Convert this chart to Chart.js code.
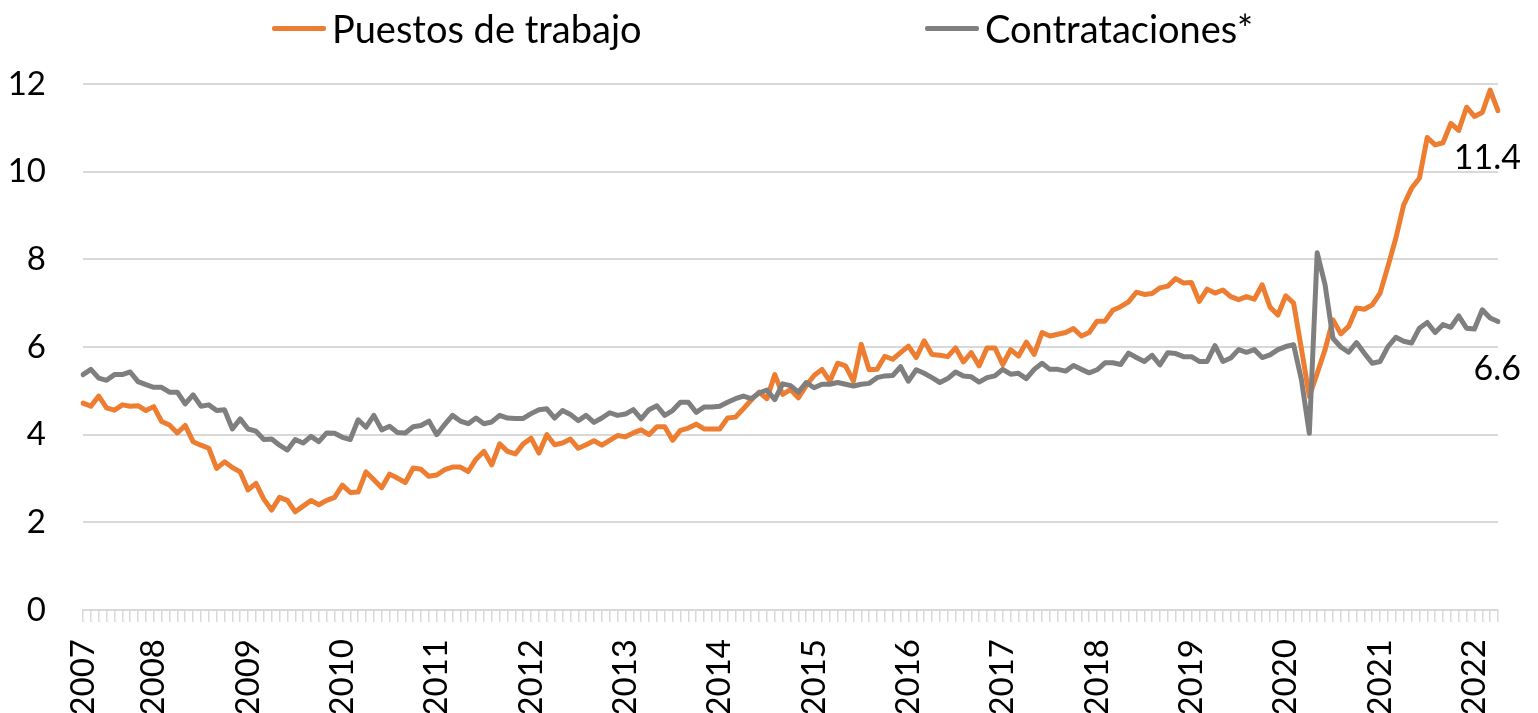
<!DOCTYPE html>
<html><head><meta charset="utf-8">
<script src="https://cdn.jsdelivr.net/npm/chart.js@4.4.0/dist/chart.umd.min.js"></script>
<style>
html,body{margin:0;padding:0;background:#fff;}
#wrap{position:relative;width:1538px;height:713px;overflow:hidden;}
#legend{position:absolute;top:0;left:0;width:1538px;height:60px;font-family:Lato,sans-serif;font-size:38px;color:#000;}
.item{position:absolute;top:6px;height:44px;display:flex;align-items:center;white-space:nowrap;}
.swatch{width:54px;height:5px;margin-right:6px;border-radius:2px;}
canvas{position:absolute;left:0;top:0;}
</style></head>
<body>
<div id="wrap">
<canvas id="c" width="1538" height="713"></canvas>
<div id="legend"></div>
</div>
<script>
// Monthly categories: Apr 2007 .. Apr 2022
const startYear = 2007, startMonth = 4, nMonths = 181;
const months = [];
for (let i = 0; i < nMonths; i++) {
  const m = (startMonth - 1 + i) % 12 + 1;
  const y = startYear + Math.floor((startMonth - 1 + i) / 12);
  months.push(y + '-' + String(m).padStart(2, '0'));
}

// Year tick labels and the category index where each one is shown
const tickYears = ['2007','2008','2009','2010','2011','2012','2013','2014','2015','2016','2017','2018','2019','2020','2021','2022'];
const tickIndex = [0, 9, 21, 33, 45, 57, 69, 81, 93, 105, 117, 129, 141, 153, 165, 177];

const seriesNames = ['Puestos de trabajo', 'Contrataciones*'];
const seriesColors = ['#ED7D31', '#7F7F7F'];

// Puestos de trabajo (millones)
const jobs = [
  4.72,4.65,4.88,4.61,4.56,4.68,4.65,4.66,4.55,4.64,4.30,4.22,4.04,4.21,3.84,3.76,3.69,3.23,3.38,3.25,
  3.15,2.74,2.89,2.53,2.28,2.57,2.50,2.24,2.37,2.50,2.40,2.50,2.57,2.85,2.68,2.69,3.15,2.97,2.79,3.10,
  3.01,2.91,3.24,3.21,3.05,3.08,3.20,3.26,3.26,3.16,3.44,3.62,3.31,3.79,3.62,3.56,3.79,3.92,3.58,4.00,
  3.77,3.81,3.90,3.69,3.77,3.86,3.76,3.87,3.98,3.95,4.04,4.11,4.00,4.18,4.18,3.87,4.10,4.15,4.24,4.13,
  4.13,4.13,4.38,4.40,4.59,4.79,4.97,4.82,5.37,4.92,5.03,4.84,
  5.12,5.35,5.49,5.22,5.63,5.57,5.22,6.06,5.48,5.49,5.79,5.72,5.87,6.02,5.76,6.14,5.83,5.81,5.78,5.98,
  5.66,5.87,5.57,5.98,5.98,5.60,5.94,5.79,6.11,5.83,6.33,6.25,6.29,6.33,6.42,6.25,6.33,6.59,6.59,6.84,
  6.92,7.03,7.25,7.20,7.22,7.35,7.39,7.56,
  7.46,7.47,7.04,7.32,7.23,7.30,7.15,7.08,7.15,7.09,7.42,6.91,6.73,7.17,7.00,5.95,4.87,5.40,5.94,6.62,
  6.30,6.47,6.89,6.86,6.96,7.23,7.84,8.48,9.24,9.62,9.85,10.78,10.61,10.66,11.10,10.94,11.47,11.26,11.35,11.86,
  11.39
];

// Contrataciones* (millones)
const hires = [
  5.37,5.49,5.29,5.24,5.37,5.37,5.43,5.21,5.14,5.08,5.08,4.97,4.97,4.70,4.91,4.65,4.68,4.55,4.57,4.13,
  4.36,4.13,4.08,3.89,3.90,3.76,3.65,3.89,3.81,3.96,3.84,4.04,4.03,3.94,3.89,4.34,4.17,4.44,4.11,4.19,
  4.05,4.04,4.18,4.21,4.31,4.00,4.23,4.44,4.31,4.25,4.38,4.25,4.29,4.44,4.38,4.37,4.37,4.48,4.57,4.59,
  4.38,4.55,4.46,4.32,4.44,4.28,4.38,4.50,4.44,4.47,4.57,4.36,4.57,4.66,4.44,4.55,4.74,4.74,4.51,4.63,
  4.63,4.65,4.74,4.82,4.88,4.82,4.95,5.02,4.80,5.16,5.12,4.97,
  5.19,5.07,5.15,5.15,5.19,5.15,5.11,5.15,5.17,5.30,5.34,5.35,5.55,5.22,5.48,5.40,5.30,5.19,5.28,5.43,
  5.34,5.32,5.20,5.30,5.34,5.49,5.38,5.40,5.28,5.49,5.63,5.49,5.49,5.45,5.58,5.49,5.41,5.48,5.64,5.64,
  5.60,5.86,5.76,5.67,5.81,5.59,5.87,5.85,
  5.78,5.78,5.67,5.67,6.03,5.67,5.75,5.94,5.88,5.94,5.76,5.82,5.94,6.01,6.05,5.25,4.03,8.15,7.42,6.20,
  6.00,5.88,6.10,5.86,5.63,5.67,6.01,6.22,6.13,6.09,6.43,6.56,6.33,6.51,6.45,6.71,6.43,6.41,6.85,6.66,
  6.58
];

const tickText = months.map(() => '');
tickIndex.forEach((idx, k) => { tickText[idx] = tickYears[k]; });

// HTML legend
const legendPos = [272, 925];
const legend = document.getElementById('legend');
seriesNames.forEach((name, i) => {
  const it = document.createElement('div');
  it.className = 'item';
  it.style.left = legendPos[i] + 'px';
  const sw = document.createElement('span');
  sw.className = 'swatch';
  sw.style.background = seriesColors[i];
  const tx = document.createElement('span');
  tx.textContent = name;
  it.appendChild(sw); it.appendChild(tx);
  legend.appendChild(it);
});

const endLabels = {
  id: 'endLabels',
  afterDatasetsDraw(chart) {
    const ctx = chart.ctx;
    ctx.save();
    ctx.font = '34px Lato';
    ctx.fillStyle = '#000';
    ctx.textAlign = 'right';
    ctx.textBaseline = 'middle';
    chart.data.datasets.forEach((ds, i) => {
      const meta = chart.getDatasetMeta(i);
      const p = meta.data[meta.data.length - 1];
      const v = ds.data[ds.data.length - 1];
      ctx.fillText(v.toFixed(1), p.x + 23, p.y + 47);
    });
    ctx.restore();
  }
};

new Chart(document.getElementById('c'), {
  type: 'line',
  data: {
    labels: months,
    datasets: [
      { label: seriesNames[0], data: jobs, borderColor: seriesColors[0], backgroundColor: seriesColors[0],
        borderWidth: 5, pointRadius: 0, tension: 0, order: 1, borderJoinStyle: 'round', borderCapStyle: 'round' },
      { label: seriesNames[1], data: hires, borderColor: seriesColors[1], backgroundColor: seriesColors[1],
        borderWidth: 5, pointRadius: 0, tension: 0, order: 0, borderJoinStyle: 'round', borderCapStyle: 'round' }
    ]
  },
  options: {
    responsive: false,
    animation: false,
    layout: { padding: { top: 84, right: 40, left: 0, bottom: 0 } },
    plugins: { legend: { display: false }, tooltip: { enabled: false } },
    scales: {
      x: {
        offset: false,
        ticks: { autoSkip: false, maxRotation: 90, minRotation: 90, padding: 17, color: '#000',
                 font: { family: 'Lato', size: 33 }, callback: (v, i) => tickText[i] },
        grid: { drawOnChartArea: false, drawTicks: true, tickLength: 12, color: '#d9d9d9', lineWidth: 1.5 },
        border: { color: '#d9d9d9', width: 2 },
        afterFit: s => { s.height = 103; s.paddingLeft = 0; s.paddingRight = 0; }
      },
      y: {
        min: 0, max: 12,
        ticks: { stepSize: 2, padding: 37, color: '#000', font: { family: 'Lato', size: 33 } },
        grid: { color: '#d9d9d9', lineWidth: 2, drawTicks: false },
        border: { display: false },
        afterFit: s => { s.width = 83; }
      }
    }
  },
  plugins: [endLabels]
});
</script>
</body></html>
